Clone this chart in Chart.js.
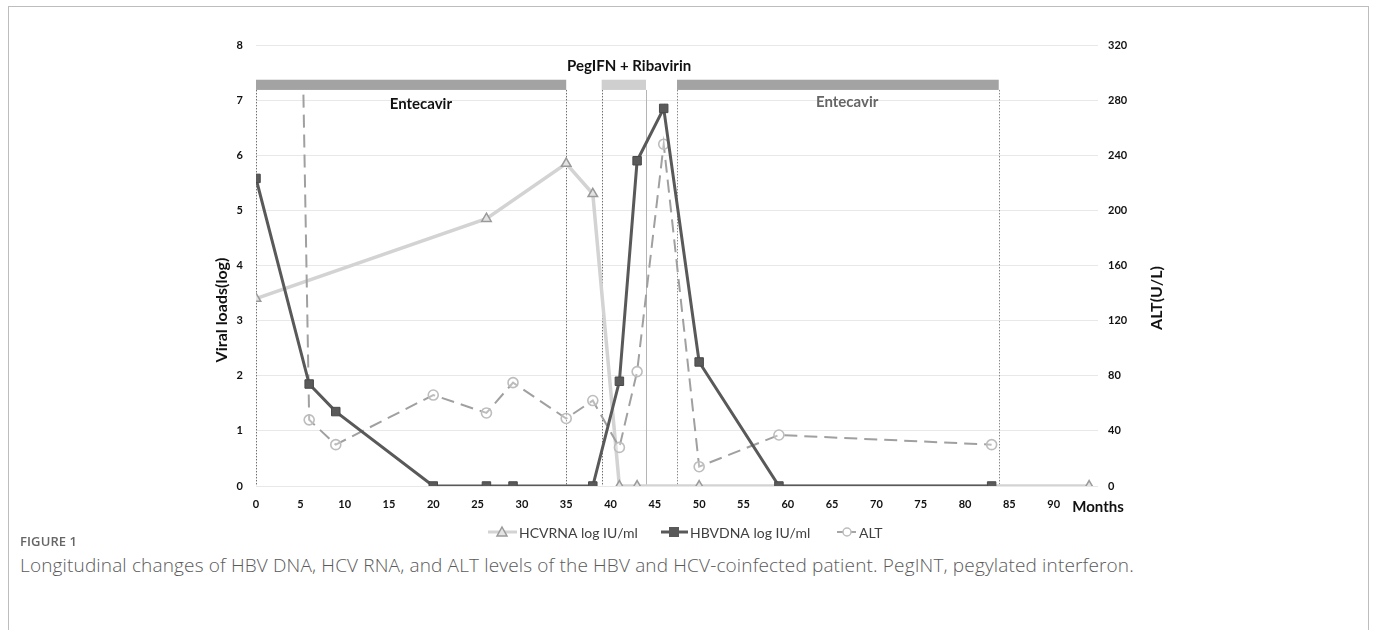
<!DOCTYPE html>
<html><head><meta charset="utf-8">
<script src="https://cdn.jsdelivr.net/npm/chart.js@4.4.1/dist/chart.umd.min.js"></script>
<style>
html,body{margin:0;padding:0;background:#fff;}
body{width:1375px;height:630px;position:relative;overflow:hidden;}
#frame{position:absolute;left:8px;top:6px;width:1361px;height:700px;border:1px solid #bdbdbd;box-sizing:border-box;}
#wrap{position:absolute;left:0;top:0;width:1375px;height:550px;}
#fig{position:absolute;left:20px;top:532px;font:600 13px 'Open Sans',sans-serif;color:#666;letter-spacing:0.1px;}
#cap{position:absolute;left:20px;top:552px;font:300 19px 'Open Sans',sans-serif;color:#5a5a5a;white-space:nowrap;letter-spacing:0.15px;}
</style></head>
<body>
<div id="frame"></div>
<div id="wrap"><canvas id="c" width="1375" height="550"></canvas></div>
<div id="fig">FIGURE 1</div>
<div id="cap">Longitudinal changes of HBV DNA, HCV RNA, and ALT levels of the HBV and HCV-coinfected patient. PegINT, pegylated interferon.</div>
<script>
// ---- data ----
const hcvMonths = [0, 26, 35, 38, 41, 43, 50, 94];
const hcvValues = [3.4, 4.85, 5.85, 5.3, 0, 0, 0, 0];
const hbvMonths = [0, 6, 9, 20, 26, 29, 38, 41, 43, 46, 50, 59, 83];
const hbvValues = [5.58, 1.85, 1.35, 0, 0, 0, 0, 1.9, 5.9, 6.85, 2.25, 0, 0];
const altMonths = [5.35, 6, 9, 20, 26, 29, 35, 38, 41, 43, 46, 50, 59, 83];
const altValues = [284, 48, 30, 66, 53, 75, 49, 62, 28, 83, 248, 14, 37, 30];
const xTickValues = [0,5,10,15,20,25,30,35,40,45,50,55,60,65,70,75,80,85,90];
const xEndLabel = 'Months';
const leftTicks = [0,1,2,3,4,5,6,7,8];
const rightTicks = [0,40,80,120,160,200,240,280,320];
const periodNames = ['Entecavir', 'PegIFN + Ribavirin', 'Entecavir'];
const periodStart = [0, 39, 47.5];
const periodEnd = [35, 44, 83.8];
const seriesNames = ['HCVRNA log IU/ml', 'HBVDNA log IU/ml', 'ALT'];

// ---- styles ----
const FONT = 'Lato, "Liberation Sans", sans-serif';
const barStyle = [
  {color:'#a3a3a3', lineColor:'#6f6f6f'},
  {color:'#cfcfcf', lineColor:'#6f6f6f'},
  {color:'#a3a3a3', lineColor:'#8a8a8a'}
];
const barY = [7.185, 7.37];
const labelPos = [
  {x:18.6, y:6.93, color:'#111'},
  {x:42.1, y:7.62, color:'#111'},
  {x:66.7, y:6.97, color:'#666'}
];

const toXY = (xs, ys) => xs.map((x,i)=>({x:x, y:ys[i]}));

const decor = {
  id:'decor',
  beforeDatasetsDraw(chart){
    const {ctx, scales:{x,y}} = chart;
    ctx.save();
    ctx.lineWidth = 1;
    const bounds = [];
    periodStart.forEach((s,i)=>{ bounds.push({v:s, c:barStyle[i].lineColor}); bounds.push({v:periodEnd[i], c: i===1 ? '#b5b5b5' : barStyle[i].lineColor}); });
    bounds.forEach(b=>{
      const px = Math.round(x.getPixelForValue(b.v)) + 0.5;
      ctx.strokeStyle = b.c;
      ctx.setLineDash(b.c==='#b5b5b5' ? [] : [1.5,1.5]);
      ctx.beginPath();
      ctx.moveTo(px, y.getPixelForValue(barY[0]));
      ctx.lineTo(px, y.getPixelForValue(0));
      ctx.stroke();
    });
    ctx.restore();
  },
  afterDatasetsDraw(chart){
    const {ctx, scales:{x,y}} = chart;
    ctx.save();
    periodStart.forEach((s,i)=>{
      const x0 = x.getPixelForValue(s), x1 = x.getPixelForValue(periodEnd[i]);
      const y0 = y.getPixelForValue(barY[1]), y1 = y.getPixelForValue(barY[0]);
      ctx.fillStyle = barStyle[i].color;
      ctx.fillRect(x0, y0, x1-x0, y1-y0);
    });
    ctx.textAlign='center'; ctx.textBaseline='middle';
    ctx.font = 'bold 15px ' + FONT;
    periodNames.forEach((n,i)=>{
      ctx.fillStyle = labelPos[i].color;
      ctx.fillText(n, x.getPixelForValue(labelPos[i].x), y.getPixelForValue(labelPos[i].y));
    });
    ctx.fillStyle = '#111';
    ctx.font = 'bold 16px ' + FONT;
    ctx.save(); ctx.translate(222, 310); ctx.rotate(-Math.PI/2); ctx.fillText('Viral loads(log)', 0, 0); ctx.restore();
    ctx.save(); ctx.translate(1157, 298); ctx.rotate(-Math.PI/2); ctx.fillText('ALT(U/L)', 0, 0); ctx.restore();
    const ly = 532;
    ctx.font = '14px ' + FONT; ctx.textAlign='left'; ctx.fillStyle='#404040';
    ctx.strokeStyle='#d3d3d3'; ctx.lineWidth=3; ctx.setLineDash([]);
    ctx.beginPath(); ctx.moveTo(488, ly); ctx.lineTo(517, ly); ctx.stroke();
    ctx.fillStyle='#e3e3e3'; ctx.strokeStyle='#9a9a9a'; ctx.lineWidth=1.5;
    ctx.beginPath(); ctx.moveTo(502, ly-5); ctx.lineTo(507, ly+4); ctx.lineTo(497, ly+4); ctx.closePath(); ctx.fill(); ctx.stroke();
    ctx.fillStyle='#404040'; ctx.fillText(seriesNames[0], 519, ly+1);
    ctx.strokeStyle='#595959'; ctx.lineWidth=3;
    ctx.beginPath(); ctx.moveTo(661, ly); ctx.lineTo(688, ly); ctx.stroke();
    ctx.fillStyle='#595959'; ctx.fillRect(669, ly-5, 10, 10);
    ctx.fillStyle='#404040'; ctx.fillText(seriesNames[1], 690, ly+1);
    ctx.strokeStyle='#a6a6a6'; ctx.lineWidth=2;
    ctx.beginPath(); ctx.moveTo(837, ly); ctx.lineTo(843, ly); ctx.stroke();
    ctx.beginPath(); ctx.moveTo(851, ly); ctx.lineTo(856, ly); ctx.stroke();
    ctx.strokeStyle='#bdbdbd'; ctx.lineWidth=1.5; ctx.fillStyle='#fff';
    ctx.beginPath(); ctx.arc(847, ly, 4, 0, Math.PI*2); ctx.fill(); ctx.stroke();
    ctx.fillStyle='#404040'; ctx.fillText(seriesNames[2], 859, ly+1);
    ctx.restore();
  }
};

new Chart(document.getElementById('c'), {
  type:'line',
  data:{
    datasets:[
      {label:seriesNames[0], data:toXY(hcvMonths,hcvValues), yAxisID:'y', order:3,
       borderColor:'#d3d3d3', borderWidth:3.5, pointStyle:'triangle', pointRadius:5.5,
       pointBackgroundColor:'#e3e3e3', pointBorderColor:'#9a9a9a', pointBorderWidth:1.5, tension:0},
      {label:seriesNames[1], data:toXY(hbvMonths,hbvValues), yAxisID:'y', order:1,
       borderColor:'#595959', borderWidth:3, pointStyle:'rect', pointRadius:6,
       pointBackgroundColor:'#5a5a5a', pointBorderColor:'#4a4a4a', pointBorderWidth:1, tension:0},
      {label:seriesNames[2], data:toXY(altMonths,altValues), yAxisID:'y1', order:2,
       borderColor:'#a0a0a0', borderWidth:2, borderDash:[13,7], pointStyle:'circle',
       pointRadius: altMonths.map((m,i)=> i===0 ? 0 : 5),
       pointBackgroundColor:'rgba(255,255,255,0.3)', pointBorderColor:'#bdbdbd', pointBorderWidth:1.6, tension:0}
    ]
  },
  options:{
    responsive:false, animation:false, maintainAspectRatio:false,
    layout:{padding:{top:45,left:0,right:0,bottom:0}},
    plugins:{legend:{display:false}, tooltip:{enabled:false}},
    scales:{
      x:{type:'linear', min:0, max:95,
        afterFit:s=>{s.height=64;},
        afterBuildTicks:s=>{ s.ticks = xTickValues.concat([95]).map(v=>({value:v})); },
        grid:{display:false, drawTicks:false}, border:{display:false},
        ticks:{padding:12, autoSkip:false, maxRotation:0, color:'#111',
          callback:(v)=> v===95 ? xEndLabel : String(v),
          font:(c)=> (c.tick && c.tick.value===95) ? {family:FONT, size:15, weight:'bold'} : {family:FONT, size:11, weight:'bold'}}
      },
      y:{position:'left', min:0, max:8,
        afterFit:s=>{s.width=256;},
        afterBuildTicks:s=>{ s.ticks = leftTicks.map(v=>({value:v})); },
        grid:{color:'#e8e8e8', lineWidth:1, drawTicks:false}, border:{display:false},
        ticks:{padding:13, color:'#111', font:{family:FONT, size:11, weight:'bold'}}
      },
      y1:{position:'right', min:0, max:320,
        afterFit:s=>{s.width=277;},
        afterBuildTicks:s=>{ s.ticks = rightTicks.map(v=>({value:v})); },
        grid:{display:false, drawTicks:false}, border:{display:false},
        ticks:{padding:10, color:'#111', font:{family:FONT, size:11, weight:'bold'}}
      }
    }
  },
  plugins:[decor]
});
</script>
</body></html>
